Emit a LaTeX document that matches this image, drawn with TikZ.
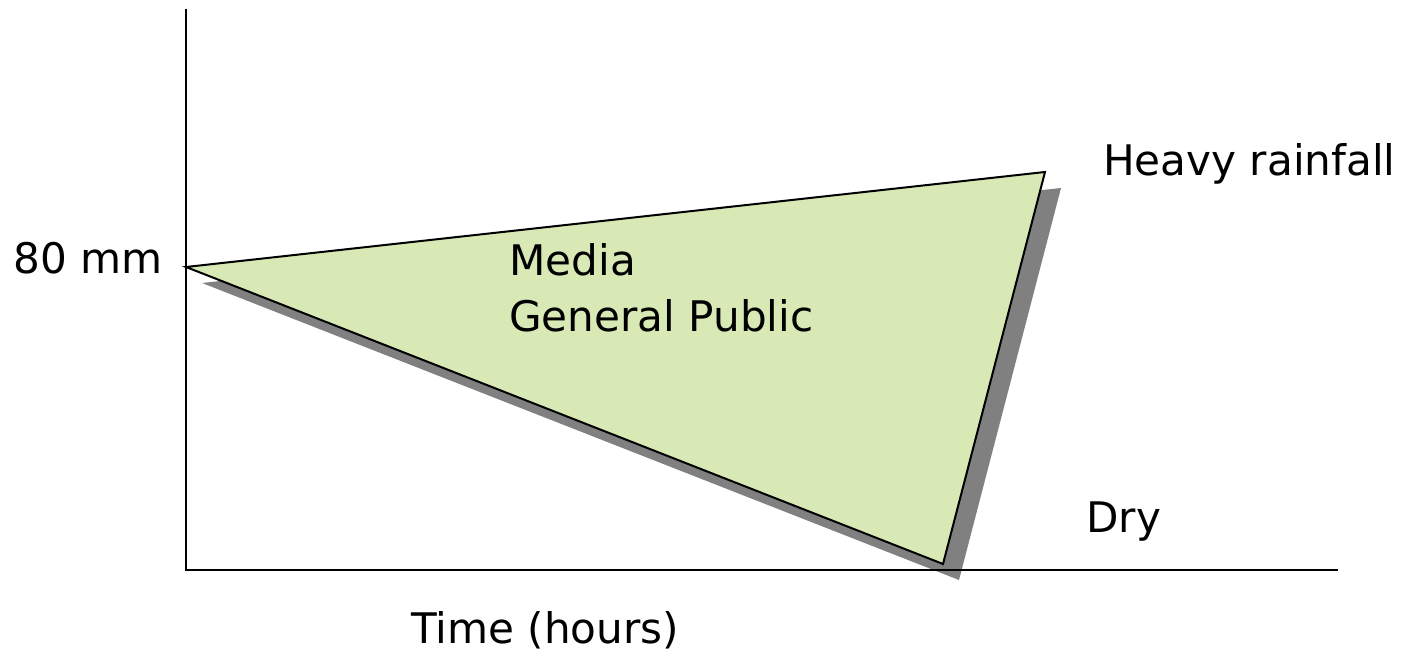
\documentclass[tikz,border=0pt]{standalone}
\usepackage{fontspec}
\setmainfont{DejaVu Sans}
\definecolor{trifill}{RGB}{216,233,181}
\definecolor{shadowgray}{RGB}{128,128,128}
\begin{document}
\begin{tikzpicture}[x=0.75pt,y=-0.75pt,
  axis/.style={line width=2pt,line cap=rect},
  tri/.style={draw=black,line width=1.5pt,fill=trifill,line join=miter},
  shade/.style={fill=shadowgray},
  lbl/.style={anchor=base west,inner sep=0pt,font=\fontsize{31.6}{38}\selectfont}]
\useasboundingbox (0,0) rectangle (1405,659);
% coordinates
\coordinate (O) at (186,570);
\coordinate (Ytop) at (186,10);
\coordinate (Xend) at (1337,570);
\coordinate (A) at (186,267);
\coordinate (B) at (1045,172);
\coordinate (C) at (943,564);
% shadow
\fill[shade] ([shift={(16,16)}]A) -- ([shift={(16,16)}]B) -- ([shift={(16,16)}]C) -- cycle;
% axes
\draw[axis] (Ytop) -- (O) -- (Xend);
% triangle
\draw[tri] (A) -- (B) -- (C) -- cycle;
% labels
\node[lbl] (heavy) at (1103,176) {Heavy rainfall};
\node[lbl] (mm) at (13,273) {80 mm};
\node[lbl] (media) at (509,275) {Media};
\node[lbl] (pub) at (509,331) {General Public};
\node[lbl] (dry) at (1086,532) {Dry};
\node[lbl] (time) at (411,643) {Time (hours)};
\end{tikzpicture}
\end{document}
